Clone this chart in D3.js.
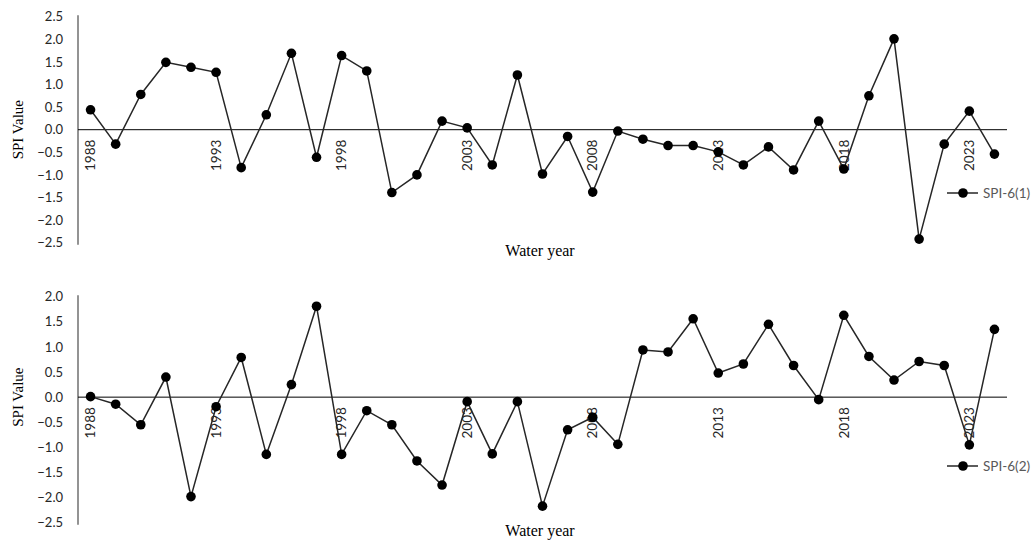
<!DOCTYPE html>
<html>
<head>
<meta charset="utf-8">
<script src="https://cdn.jsdelivr.net/npm/d3@7"></script>
<style>
  html, body { margin: 0; padding: 0; background: #fff; }
  svg { display: block; }
  .tick-lbl { font-family: Lato, "Open Sans", sans-serif; font-size: 13px; fill: #262626; }
  .year { font-size: 13.5px; }
  .title { font-family: "Liberation Serif", "Times New Roman", serif; font-size: 15px; fill: #000; }
  .legend-lbl { font-family: Lato, "Open Sans", sans-serif; font-size: 13.5px; fill: #595959; }
</style>
</head>
<body>
<svg id="chart" width="1034" height="543"></svg>
<script>
// Water years on the category axis
const years = d3.range(1988, 2025);
const yearLabels = ["1988", "1993", "1998", "2003", "2008", "2013", "2018", "2023"];

// SPI-6 values for the first six-month period
const spi6_1 = [0.44, -0.32, 0.78, 1.49, 1.38, 1.27, -0.84, 0.33, 1.69, -0.61,
  1.64, 1.30, -1.39, -1.00, 0.19, 0.04, -0.78, 1.21, -0.98, -0.15,
  -1.38, -0.03, -0.21, -0.35, -0.35, -0.49, -0.78, -0.38, -0.89, 0.19,
  -0.87, 0.75, 2.01, -2.42, -0.32, 0.41, -0.54];

// SPI-6 values for the second six-month period
const spi6_2 = [0.01, -0.14, -0.55, 0.40, -1.98, -0.19, 0.79, -1.14, 0.25, 1.81,
  -1.14, -0.27, -0.55, -1.27, -1.75, -0.09, -1.13, -0.09, -2.17, -0.65,
  -0.40, -0.94, 0.94, 0.90, 1.56, 0.48, 0.66, 1.45, 0.63, -0.05,
  1.63, 0.81, 0.34, 0.71, 0.63, -0.95, 1.35];

const topTicks = [2.5, 2.0, 1.5, 1.0, 0.5, 0.0, -0.5, -1.0, -1.5, -2.0, -2.5];
const bottomTicks = [2.0, 1.5, 1.0, 0.5, 0.0, -0.5, -1.0, -1.5, -2.0, -2.5];

const svg = d3.select("#chart");

const x = d3.scalePoint().domain(years).range([78, 1007]).padding(0.5);

const panels = [
  { values: spi6_1, name: "SPI-6(1)", domain: [-2.5, 2.5], range: [242.7, 16.7], ticks: topTicks, legendY: 193, titleY: 256 },
  { values: spi6_2, name: "SPI-6(2)", domain: [-2.5, 2.0], range: [522.7, 296.7], ticks: bottomTicks, legendY: 466, titleY: 536 }
];

panels.forEach(p => {
  const y = d3.scaleLinear().domain(p.domain).range(p.range);
  const g = svg.append("g");

  // value axis: vertical rule with labels, no tick marks
  const yAxis = g.append("g")
    .attr("transform", "translate(78,0)")
    .call(d3.axisLeft(y).tickValues(p.ticks).tickFormat(d3.format(".1f")).tickSize(0).tickPadding(15));
  yAxis.select(".domain").remove();
  yAxis.selectAll("text").attr("class", "tick-lbl").attr("fill", null).style("font-size", null).style("font-family", null);
  g.append("line")
    .attr("x1", 78).attr("x2", 78)
    .attr("y1", y(p.domain[1]) - 1.5).attr("y2", y(p.domain[0]) + 2)
    .attr("stroke", "#595959").attr("stroke-width", 1.3);

  // zero line acting as the category axis
  g.append("line")
    .attr("x1", 78).attr("x2", 1007)
    .attr("y1", y(0)).attr("y2", y(0))
    .attr("stroke", "#000").attr("stroke-width", 1);

  // year labels, rotated, every fifth year
  g.selectAll("text.year")
    .data(yearLabels)
    .join("text")
    .attr("class", "tick-lbl year")
    .attr("transform", d => `translate(${x(+d)},${y(0) + 10}) rotate(-90)`)
    .attr("text-anchor", "end")
    .attr("dy", "0.35em")
    .text(d => d);

  // series line and markers
  const line = d3.line().x((d, i) => x(years[i])).y(d => y(d));
  g.append("path")
    .datum(p.values)
    .attr("d", line)
    .attr("fill", "none")
    .attr("stroke", "#262626")
    .attr("stroke-width", 1.5);
  g.selectAll("circle.pt")
    .data(p.values)
    .join("circle")
    .attr("class", "pt")
    .attr("cx", (d, i) => x(years[i]))
    .attr("cy", d => y(d))
    .attr("r", 4.8)
    .attr("fill", "#000");

  // axis titles
  g.append("text")
    .attr("class", "title")
    .attr("transform", `translate(23,${y(0)}) rotate(-90)`)
    .attr("text-anchor", "middle")
    .text("SPI Value");
  g.append("text")
    .attr("class", "title")
    .attr("x", 540).attr("y", p.titleY)
    .attr("text-anchor", "middle")
    .style("font-size", "16px")
    .text("Water year");

  // legend
  const lg = g.append("g").attr("transform", `translate(0,${p.legendY})`);
  lg.append("line").attr("x1", 947).attr("x2", 978).attr("y1", 0).attr("y2", 0)
    .attr("stroke", "#262626").attr("stroke-width", 1.5);
  lg.append("circle").attr("cx", 963).attr("cy", 0).attr("r", 4.8).attr("fill", "#000");
  lg.append("text").attr("class", "legend-lbl").attr("x", 983).attr("y", 0).attr("dy", "0.35em").text(p.name);
});
</script>
</body>
</html>
